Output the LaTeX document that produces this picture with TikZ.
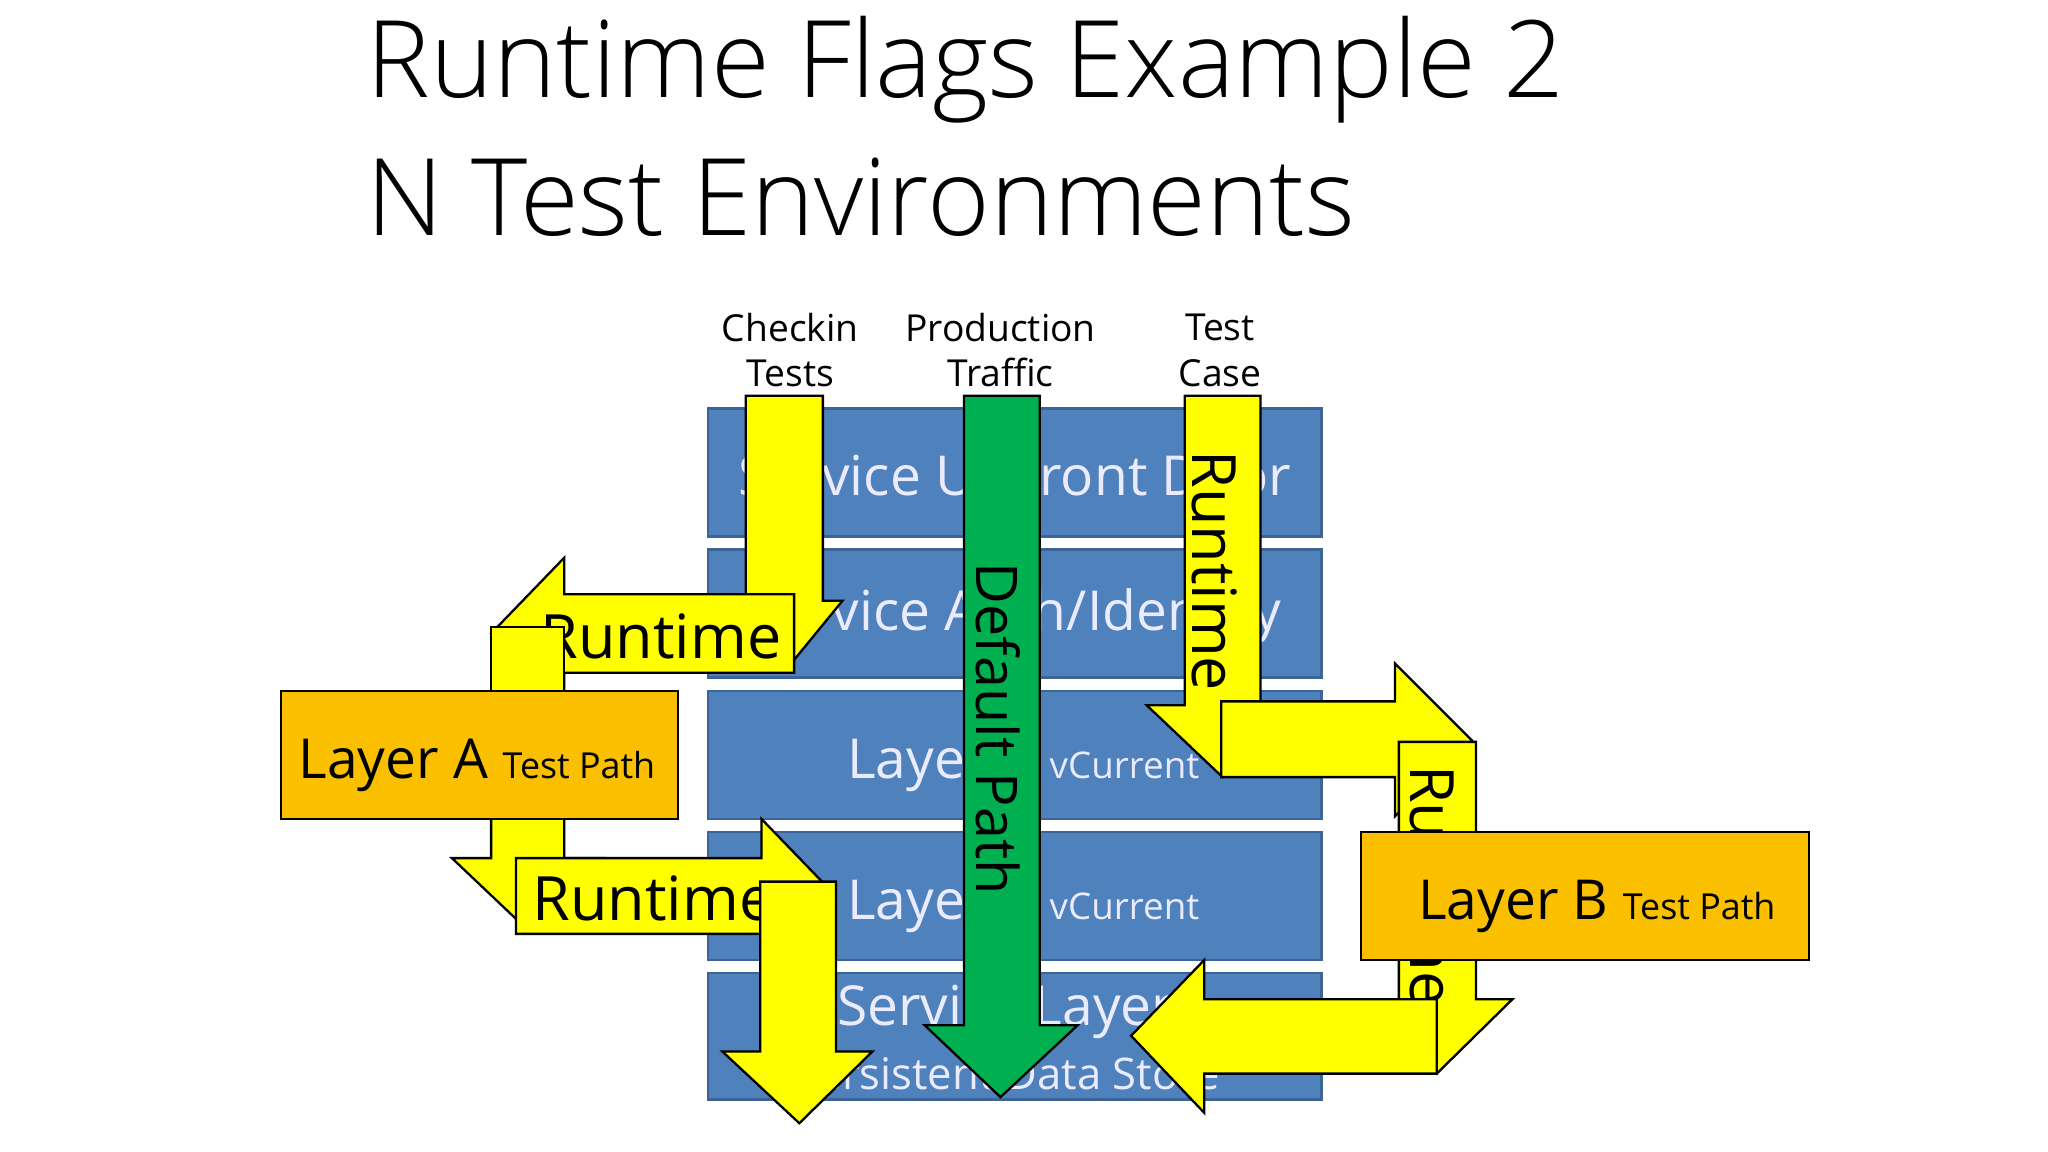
\documentclass[tikz,border=0pt]{standalone}
\usepackage{fontspec}
\setmainfont{Open Sans}
\newfontfamily\light{Open Sans Light}
\begin{document}
\begin{tikzpicture}[x=0.01cm,y=-0.01cm,
  blu/.style={fill={rgb,255:red,79;green,129;blue,189},draw={rgb,255:red,60;green,100;blue,150},line width=0.6pt},
  org/.style={fill={rgb,255:red,250;green,192;blue,0},draw=black,line width=0.5pt},
  yarr/.style={fill={rgb,255:red,255;green,255;blue,0},draw=black,line width=0.5pt},
  garr/.style={fill={rgb,255:red,0;green,176;blue,80},draw=black,line width=0.5pt},
  btxt/.style={text=white!92!blue,font=\fontsize{12}{14}\selectfont},
  lbl/.style={font=\fontsize{8.1}{10}\selectfont,align=center,inner sep=0pt},
  rt/.style={font=\fontsize{13.3}{16}\selectfont,inner sep=0pt}]
\useasboundingbox (0,0) rectangle (1568,882);
\fill[white] (0,0) rectangle (1568,882);
% title
\node[anchor=base west,inner sep=0pt,font=\light\fontsize{23.3}{26}\selectfont] (t1) at (280,75) {Runtime Flags Example 2};
\node[anchor=base west,inner sep=0pt,font=\light\fontsize{23.3}{26}\selectfont] (t2) at (280,180) {N Test Environments};
% labels
\node[lbl] (l1) at (605,268) {Checkin\\Tests};
\node[lbl] (l2) at (766,268) {Production\\Traffic};
\node[lbl] (l3) at (934,268) {Test\\Case};
% blue boxes
\draw[blu] (542,313) rectangle (1012,411);
\draw[blu] (542,421) rectangle (1012,519);
\draw[blu] (542,529) rectangle (1012,627);
\draw[blu] (542,637) rectangle (1012,735);
\draw[blu] (542,745) rectangle (1012,842);
\node[btxt] (b1) at (777,364) {Service UI/Front Door};
\node[btxt] (b2) at (777,472) {Service Auth/Identity};
\node[btxt,anchor=base west,inner sep=0pt] (b3) at (648,596) {Layer};
\node[btxt,anchor=base west,inner sep=0pt,font=\fontsize{8}{10}\selectfont] (b3b) at (803,596) {vCurrent};
\node[btxt,anchor=base west,inner sep=0pt] (b4) at (648,704) {Layer};
\node[btxt,anchor=base west,inner sep=0pt,font=\fontsize{8}{10}\selectfont] (b4b) at (803,704) {vCurrent};
\node[btxt] (b5) at (770,775) {Service Layer};
\node[btxt,font=\fontsize{9.5}{12}\selectfont] (b5b) at (770,822) {Persistent Data Store};
% checkin arrow (down)
\draw[yarr] (571,303) -- (630,303) -- (630,460) -- (645,460) -- (600,515) -- (555,460) -- (571,460) -- cycle;
% left Runtime arrow
\draw[yarr] (608,455) -- (608,515) -- (432,515) -- (432,543) -- (376,485) -- (432,427) -- (432,455) -- cycle;
\node[rt] (r1) at (506,487) {Runtime};
% vertical piece from Layer A up
\draw[yarr] (376,480) rectangle (432,532);
% down arrow below Layer A
\draw[yarr] (376,620) -- (432,620) -- (432,657) -- (462,657) -- (404,712) -- (346,657) -- (376,657) -- cycle;
% right Runtime arrow lower
\draw[yarr] (395,657) -- (583,657) -- (583,627) -- (640,686) -- (583,745) -- (583,715) -- (395,715) -- cycle;
\node[rt] (r2) at (500,688) {Runtime};
% down arrow to data store
\draw[yarr] (582,675) -- (640,675) -- (640,805) -- (668,805) -- (612,860) -- (553,805) -- (582,805) -- cycle;
% green default path
\draw[garr] (738,303) -- (796,303) -- (796,785) -- (825,785) -- (766,840) -- (708,785) -- (738,785) -- cycle;
\node[rt,rotate=-90,font=\fontsize{12.5}{15}\selectfont] (dp) at (764,558) {Default Path};
% test case arrow
\draw[yarr] (907,303) -- (965,303) -- (965,540) -- (995,540) -- (936,595) -- (878,540) -- (907,540) -- cycle;
\node[rt,rotate=-90] (r3) at (930,437) {Runtime};
% right arrow upper
\draw[yarr] (935,537) -- (1068,537) -- (1068,508) -- (1127,567) -- (1068,625) -- (1068,595) -- (935,595) -- cycle;
% down arrow right
\draw[yarr] (1071,568) -- (1130,568) -- (1130,765) -- (1158,765) -- (1100,822) -- (1043,765) -- (1071,765) -- cycle;
\node[rt,rotate=-90] (r4) at (1097,678) {Runtime};
% bottom left arrow
\draw[yarr] (1100,765) -- (1100,822) -- (922,822) -- (922,852) -- (866,793) -- (922,735) -- (922,765) -- cycle;
% layer boxes
\draw[org] (215,529) rectangle (519,627);
\node[anchor=base west,inner sep=0pt,font=\fontsize{12}{14}\selectfont] (la) at (228,596) {Layer A \fontsize{7.8}{10}\selectfont Test Path};
\draw[org] (1042,637) rectangle (1385,735);
\node[anchor=base west,inner sep=0pt,font=\fontsize{12}{14}\selectfont] (lb) at (1085,704) {Layer B \fontsize{7.8}{10}\selectfont Test Path};
\end{tikzpicture}
\end{document}
